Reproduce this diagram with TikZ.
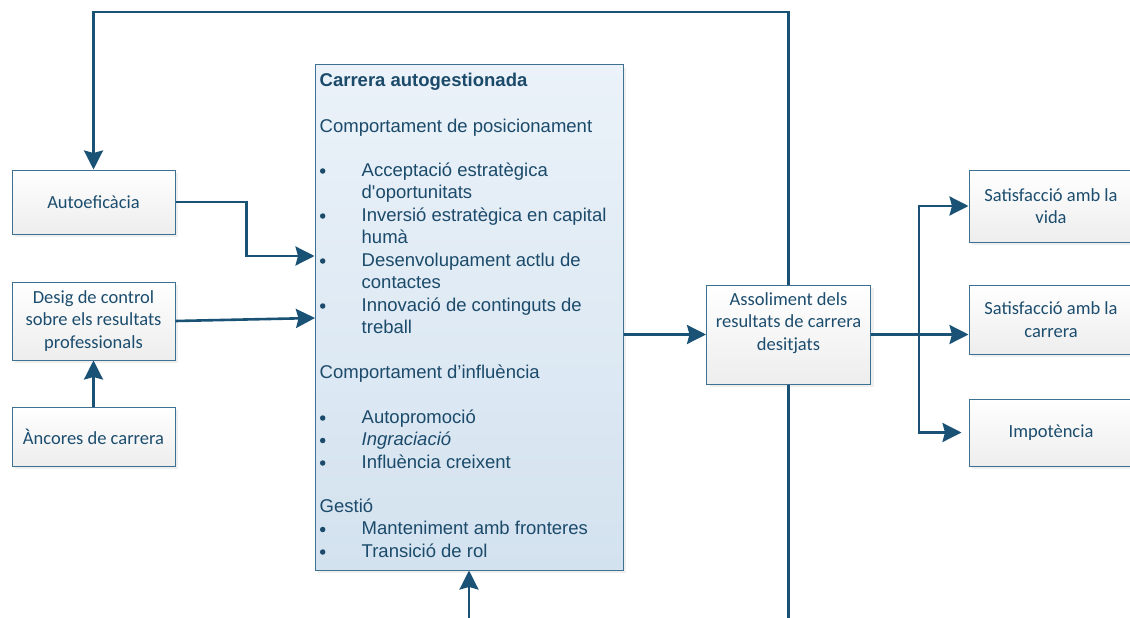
\documentclass[tikz,border=0pt]{standalone}
\usepackage{fontspec}
\setmainfont{Liberation Sans}
\newfontfamily\carl{Carlito}
\usetikzlibrary{arrows.meta,shadows}
\definecolor{linecol}{HTML}{1A5276}
\definecolor{bordcol}{HTML}{3E7091}
\definecolor{txtcol}{HTML}{1C4D6E}
\definecolor{bigtxt}{HTML}{1B4A6A}
\definecolor{bigtop}{HTML}{EBF2F9}
\definecolor{bigbot}{HTML}{D3E2EF}
\begin{document}
\begin{tikzpicture}[x=1pt,y=-1pt,
  box/.style={draw=bordcol, line width=1pt, top color=white, bottom color=black!7,
    minimum width=163pt, inner sep=0pt, align=center, text=txtcol,
    font=\carl\fontsize{18.5}{22.5}\selectfont,
    drop shadow={shadow xshift=3pt, shadow yshift=-3pt, fill=black!12}},
  bigbox/.style={draw=bordcol, line width=1pt, top color=bigtop, bottom color=bigbot,
    minimum width=308pt, minimum height=505pt, inner sep=0pt,
    drop shadow={shadow xshift=3pt, shadow yshift=-3pt, fill=black!12}},
  asstxt/.style={inner sep=0pt, align=center, text=txtcol, font=\carl\fontsize{18.5}{22.5}\selectfont},
  bt/.style={anchor=base west, inner sep=0pt, text=bigtxt, font=\fontsize{18.5}{22}\selectfont},
  dot/.style={circle, fill=bigtxt, inner sep=0pt, minimum size=5.5pt},
  conn/.style={draw=linecol, line width=2.6pt},
  arr/.style={conn, -{Stealth[length=19pt,width=19pt,inset=2.5pt]}}
]
\useasboundingbox (0,0) rectangle (1130,618);

% left boxes
\node[box, minimum height=64pt] (auto) at (93.5,202) {Autoefic\`acia};
\node[box, minimum height=78pt] (desig) at (93.5,321) {Desig de control\\sobre els resultats\\professionals};
\node[box, minimum height=59pt] (anc) at (93.5,436.5) {\`Ancores de carrera};

% big box
\node[bigbox] (cag) at (469,317.5) {};

% middle / right boxes
\node[box, minimum width=164pt, minimum height=99pt] (ass) at (788.5,334.5) {};
\node[asstxt] (asst) at (788.5,323) {Assoliment dels\\resultats de carrera\\desitjats};
\node[box, minimum width=164pt, minimum height=72pt] (vida) at (1051,206) {Satisfacci\'o amb la\\vida};
\node[box, minimum width=164pt, minimum height=69pt] (carr) at (1051,319.5) {Satisfacci\'o amb la\\carrera};
\node[box, minimum width=164pt, minimum height=67pt] (imp) at (1051,432.5) {Impot\`encia};

% text of big box
\node[bt, font=\bfseries\fontsize{18.5}{22}\selectfont] (t0) at (319.5,87) {Carrera autogestionada};
\node[bt] (t1) at (319.5,132) {Comportament de posicionament};
\node[dot] (b1) at (322.7,171) {};
\node[bt] (t2) at (361.5,176) {Acceptaci\'o estrat\`egica};
\node[bt] (t3) at (361.5,198.5) {d\textquotesingle oportunitats};
\node[dot] (b2) at (322.7,216) {};
\node[bt] (t4) at (361.5,221) {Inversi\'o estrat\`egica en capital};
\node[bt] (t5) at (361.5,243.5) {hum\`a};
\node[dot] (b3) at (322.7,261) {};
\node[bt] (t6) at (361.5,266) {Desenvolupament actlu de};
\node[bt] (t7) at (361.5,288.5) {contactes};
\node[dot] (b4) at (322.7,306) {};
\node[bt] (t8) at (361.5,311) {Innovaci\'o de continguts de};
\node[bt] (t9) at (361.5,333) {treball};
\node[bt] (t10) at (319.5,378) {Comportament d’influ\`encia};
\node[dot] (b5) at (322.7,418) {};
\node[bt] (t11) at (361.5,423) {Autopromoci\'o};
\node[dot] (b6) at (322.7,440.5) {};
\node[bt] (t12) at (361.5,445.5) {\itshape Ingraciaci\'o};
\node[dot] (b7) at (322.7,463) {};
\node[bt] (t13) at (361.5,468) {Influ\`encia creixent};
\node[bt] (t14) at (319.5,512) {Gesti\'o};
\node[dot] (b8) at (322.7,529.5) {};
\node[bt] (t15) at (361.5,534.5) {Manteniment amb fronteres};
\node[dot] (b9) at (322.7,552) {};
\node[bt] (t16) at (361.5,557) {Transici\'o de rol};

% coordinates
\coordinate (tl) at (93.5,12);
\coordinate (k1) at (246.5,256);
\coordinate (d2) at (315,318);
\coordinate (br) at (919,334.5);
\coordinate (bot1) at (788.5,620);
\coordinate (bot2) at (469,620);

% connectors
\draw[arr] (ass.north) |- (tl) -- (auto.north);
\draw[conn] (ass.south) -- (bot1);
\draw[arr] (auto.east) -| (k1) -- (k1 -| cag.west);
\draw[arr] (desig.east) -- (d2);
\draw[arr] (anc.north) -- (desig.south);
\draw[arr] (cag.east |- ass.west) -- (ass.west);
\draw[arr] (ass.east) -- (ass.east -| carr.west);
\draw[arr] (br) |- (vida.west);
\draw[arr] (br) |- ([xshift=-7pt]imp.west);
\draw[arr] (bot2) -- (cag.south);
\end{tikzpicture}
\end{document}
